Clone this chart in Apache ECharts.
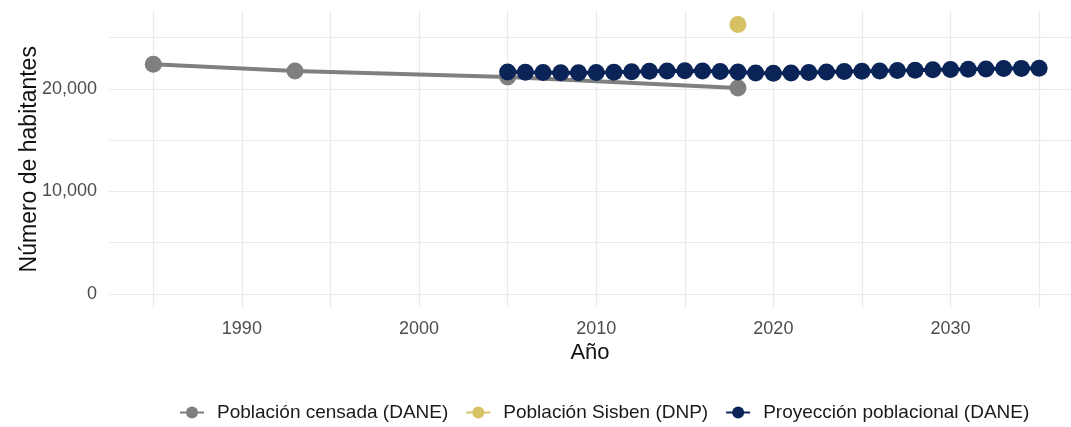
<!DOCTYPE html>
<html>
<head>
<meta charset="utf-8">
<script src="https://cdn.jsdelivr.net/npm/echarts@6/dist/echarts.min.js"></script>
<style>html,body{margin:0;padding:0;background:#fff}#c{width:1071px;height:427px}</style>
</head>
<body>
<div id="c"></div>
<script>
// Data
const censoYears = [1985, 1993, 2005, 2018];
const censoValues = [22400, 21750, 21150, 20080];
const sisbenYears = [2018];
const sisbenValues = [26280];
const proyYears = [2005,2006,2007,2008,2009,2010,2011,2012,2013,2014,2015,2016,2017,2018,2019,2020,2021,2022,2023,2024,2025,2026,2027,2028,2029,2030,2031,2032,2033,2034,2035];
const proyValues = [21650,21620,21600,21580,21570,21590,21630,21680,21720,21750,21760,21740,21700,21640,21560,21520,21540,21600,21650,21690,21720,21750,21790,21820,21860,21890,21920,21950,21980,22000,22020];
const seriesNames = ['Población censada (DANE)', 'Población Sisben (DNP)', 'Proyección poblacional (DANE)'];
const xTickLabels = [1990, 2000, 2010, 2020, 2030];
const yTickLabels = [0, 10000, 20000];

const pair = (xs, ys) => xs.map((x, i) => [x, ys[i]]);
const font = '"Liberation Sans", Arial, sans-serif';
const grid = '#ebebeb';

const chart = echarts.init(document.getElementById('c'), null, {renderer: 'canvas'});
chart.setOption({
  animation: false,
  backgroundColor: '#fff',
  grid: {left: 109, right: 0, top: 11, bottom: 119.5, containLabel: false, outerBoundsMode: 'none'},
  xAxis: {
    type: 'value', min: 1982.5, max: 2036.8, splitNumber: 11,
    name: 'Año', nameLocation: 'middle', nameGap: 34, nameMoveOverlap: false,
    nameTextStyle: {fontFamily: font, fontSize: 22, color: '#111'},
    axisLine: {show: false}, axisTick: {show: false},
    axisLabel: {
      fontFamily: font, fontSize: 18, color: '#4d4d4d', margin: 13,
      formatter: v => xTickLabels.indexOf(v) >= 0 ? String(v) : ''
    },
    splitLine: {show: true, showMinLine: false, showMaxLine: false, lineStyle: {color: grid, width: 1.2}}
  },
  yAxis: {
    type: 'value', min: -1314, max: 27594, splitNumber: 6,
    name: 'Número de habitantes', nameLocation: 'middle', nameGap: 68, nameRotate: 90, nameMoveOverlap: false,
    nameTextStyle: {fontFamily: font, fontSize: 23, color: '#111'},
    axisLine: {show: false}, axisTick: {show: false},
    axisLabel: {
      fontFamily: font, fontSize: 18, color: '#4d4d4d', margin: 12,
      formatter: v => yTickLabels.indexOf(v) >= 0 ? v.toLocaleString('en-US') : ''
    },
    splitLine: {show: true, showMinLine: false, showMaxLine: false, lineStyle: {color: grid, width: 1.2}}
  },
  legend: {
    bottom: 0, left: 174,
    itemWidth: 24, itemHeight: 15, itemGap: 17,
    textStyle: {fontFamily: font, fontSize: 19, color: '#1a1a1a', padding: [0, 0, 0, 8]},
    data: seriesNames
  },
  series: [
    {
      name: seriesNames[0], type: 'line', data: pair(censoYears, censoValues),
      symbol: 'circle', symbolSize: 17, z: 2,
      lineStyle: {color: '#7f7f7f', width: 4}, itemStyle: {color: '#7f7f7f'}
    },
    {
      name: seriesNames[1], type: 'line', data: pair(sisbenYears, sisbenValues),
      symbol: 'circle', symbolSize: 17, z: 3,
      lineStyle: {color: '#d6c165', width: 4}, itemStyle: {color: '#d6c165'}
    },
    {
      name: seriesNames[2], type: 'line', data: pair(proyYears, proyValues),
      symbol: 'circle', symbolSize: 17, z: 4,
      lineStyle: {color: '#0a2458', width: 4}, itemStyle: {color: '#0a2458'}
    }
  ]
});
</script>
</body>
</html>
